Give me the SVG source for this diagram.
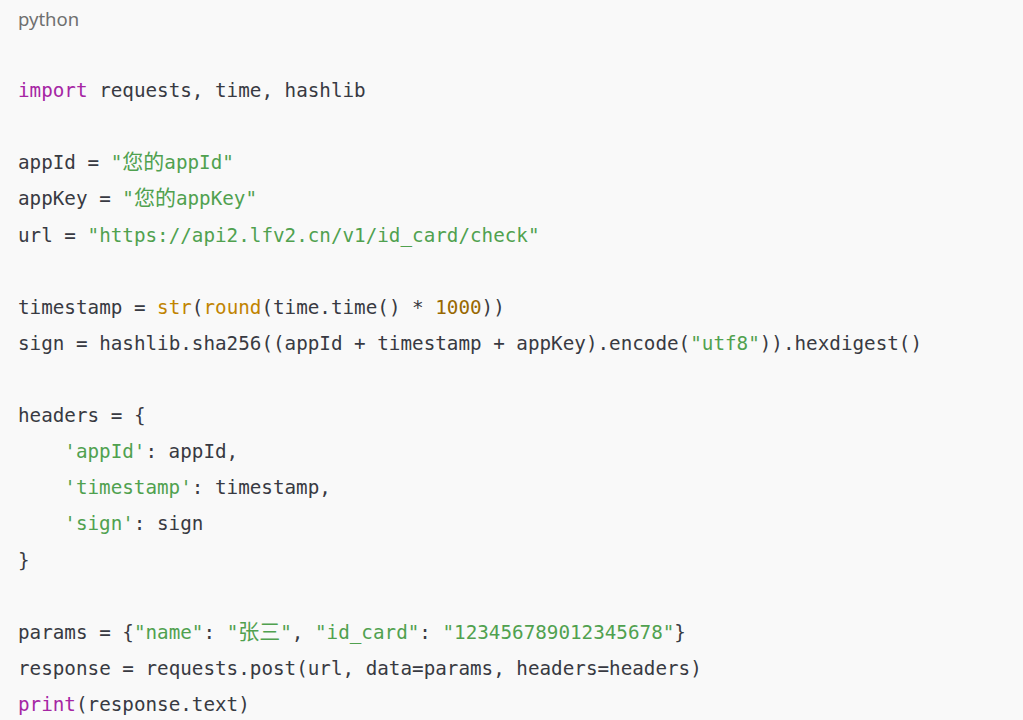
<svg xmlns="http://www.w3.org/2000/svg" width="1023" height="720" viewBox="0 0 1023 720">
<style>
.bg{fill:#f9f9f9}
.lang{font-family:"Noto Sans","Liberation Sans",sans-serif;font-size:18.5px;fill:#6f6f6f}
.code{font-family:"DejaVu Sans Mono","Liberation Mono",monospace;font-size:19.25px;fill:#383a42;white-space:pre}
.k{fill:#a626a4}
.s{fill:#50a14f}
.b{fill:#c18401}
.n{fill:#986801}
.cjk{font-family:"Noto Sans CJK SC",sans-serif;font-size:21px}
</style>
<rect class="bg" x="0" y="0" width="1023" height="720"/>
<text class="lang" x="18" y="26">python</text>
<g id="code">
<text class="code" x="18" y="97"><tspan class="k">import</tspan> requests, time, hashlib</text>
<text class="code" x="18" y="169.2">appId = <tspan class="s">"<tspan class="cjk">您的</tspan>appId"</tspan></text>
<text class="code" x="18" y="205.4">appKey = <tspan class="s">"<tspan class="cjk">您的</tspan>appKey"</tspan></text>
<text class="code" x="18" y="241.5">url = <tspan class="s">"https://api2.lfv2.cn/v1/id_card/check"</tspan></text>
<text class="code" x="18" y="313.7">timestamp = <tspan class="b">str</tspan>(<tspan class="b">round</tspan>(time.time() * <tspan class="n">1000</tspan>))</text>
<text class="code" x="18" y="349.8">sign = hashlib.sha256((appId + timestamp + appKey).encode(<tspan class="s">"utf8"</tspan>)).hexdigest()</text>
<text class="code" x="18" y="422">headers = {</text>
<text class="code" x="64.3" y="458.2"><tspan class="s">'appId'</tspan>: appId,</text>
<text class="code" x="64.3" y="494.3"><tspan class="s">'timestamp'</tspan>: timestamp,</text>
<text class="code" x="64.3" y="530.4"><tspan class="s">'sign'</tspan>: sign</text>
<text class="code" x="18" y="566.6">}</text>
<text class="code" x="18" y="638.8">params = {<tspan class="s">"name"</tspan>: <tspan class="s">"<tspan class="cjk">张三</tspan>"</tspan>, <tspan class="s">"id_card"</tspan>: <tspan class="s">"123456789012345678"</tspan>}</text>
<text class="code" x="18" y="674.9">response = requests.post(url, data=params, headers=headers)</text>
<text class="code" x="18" y="711"><tspan class="k">print</tspan>(response.text)</text>
</g>
</svg>
